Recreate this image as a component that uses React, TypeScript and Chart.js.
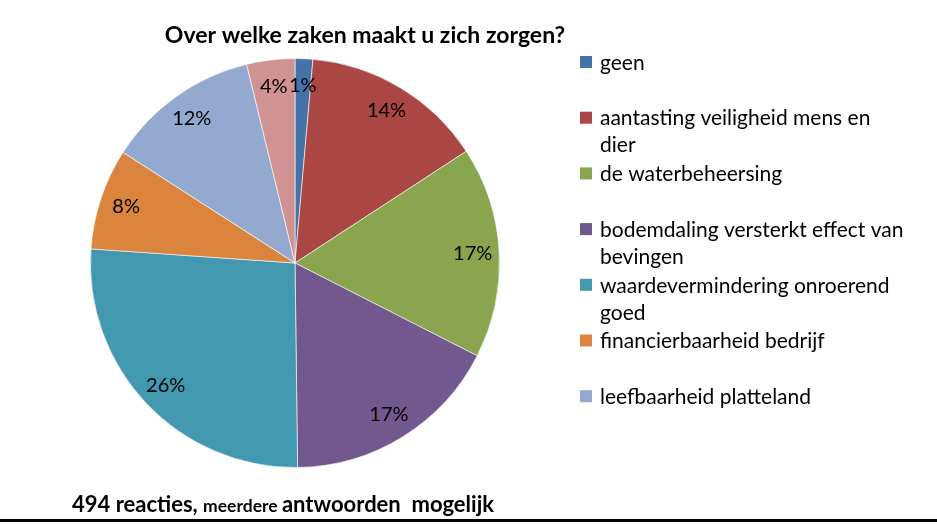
import React, { useEffect, useRef } from "react";
import { Chart, registerables } from "chart.js";

Chart.register(...registerables);

const TITLE = "Over welke zaken maakt u zich zorgen?";
const categories = [
  "geen",
  "aantasting veiligheid mens en dier",
  "de waterbeheersing",
  "bodemdaling versterkt effect van bevingen",
  "waardevermindering onroerend goed",
  "financierbaarheid bedrijf",
  "leefbaarheid platteland",
  "overig",
];
const values = [1.4, 14.4, 16.7, 17.3, 26.3, 8.0, 12.1, 3.8];
const percentLabels = ["1%", "14%", "17%", "17%", "26%", "8%", "12%", "4%"];
const colors = ["#4572A7", "#AA4643", "#89A54E", "#71588F", "#4198AF", "#DB843D", "#93A9CF", "#D19392"];
const legendCount = 7;

const FONT = "Lato, 'Open Sans', sans-serif";

function wrap(ctx: CanvasRenderingContext2D, text: string, maxW: number): string[] {
  const words = text.split(" ");
  const lines: string[] = [];
  let cur = "";
  for (const w of words) {
    const t = cur ? cur + " " + w : w;
    if (ctx.measureText(t).width > maxW && cur) {
      lines.push(cur);
      cur = w;
    } else cur = t;
  }
  if (cur) lines.push(cur);
  return lines;
}

const decorPlugin = {
  id: "decor",
  afterDraw(chart: any) {
    const ctx: CanvasRenderingContext2D = chart.ctx;
    const meta = chart.getDatasetMeta(0);
    ctx.save();
    // percent labels
    ctx.fillStyle = "#000";
    ctx.font = `20px ${FONT}`;
    ctx.textAlign = "center";
    ctx.textBaseline = "middle";
    meta.data.forEach((arc: any, i: number) => {
      const { x, y, startAngle, endAngle, outerRadius } = arc.getProps(
        ["x", "y", "startAngle", "endAngle", "outerRadius"],
        true
      );
      const mid = (startAngle + endAngle) / 2;
      const r = outerRadius * 0.87;
      ctx.fillText(percentLabels[i], x + Math.cos(mid) * r, y + Math.sin(mid) * r);
    });
    // title
    ctx.font = `bold 23px ${FONT}`;
    ctx.textAlign = "center";
    ctx.textBaseline = "alphabetic";
    ctx.fillText(TITLE, 365, 43);
    // legend
    ctx.font = `21px ${FONT}`;
    ctx.textAlign = "left";
    ctx.textBaseline = "middle";
    for (let i = 0; i < legendCount; i++) {
      const cy = 62 + i * 55.7;
      ctx.fillStyle = colors[i];
      ctx.fillRect(580, cy - 6, 12, 12);
      ctx.fillStyle = "#000";
      const lines = wrap(ctx, categories[i], 307);
      lines.forEach((ln, j) => ctx.fillText(ln, 600, cy + 1 + j * 27));
    }
    // footer
    ctx.textBaseline = "alphabetic";
    let fx = 72;
    const parts: [string, number][] = [
      ["494 reacties, ", 22],
      ["meerdere ", 17.5],
      ["antwoorden  mogelijk", 22],
    ];
    for (const [t, s] of parts) {
      ctx.font = `bold ${s}px ${FONT}`;
      ctx.fillText(t, fx, 512);
      fx += ctx.measureText(t).width;
    }
    // bottom line
    ctx.fillStyle = "#000";
    ctx.fillRect(0, 519, 937, 3);
    ctx.restore();
  },
};

export default function App() {
  const ref = useRef<HTMLCanvasElement>(null);
  useEffect(() => {
    const chart = new Chart(ref.current!, {
      type: "pie",
      data: {
        labels: categories,
        datasets: [
          {
            data: values,
            backgroundColor: colors,
            borderColor: "rgba(255,255,255,0.6)",
            borderWidth: 1,
          },
        ],
      },
      options: {
        animation: false,
        responsive: false,
        maintainAspectRatio: false,
        layout: { padding: { left: 90, right: 437, top: 58, bottom: 57 } },
        plugins: {
          legend: { display: false },
          title: { display: false },
          tooltip: { enabled: false },
        },
      },
      plugins: [decorPlugin],
    });
    return () => chart.destroy();
  }, []);
  return (
    <div style={{ position: "absolute", left: 0, top: 0, width: 937, height: 525, background: "#fff" }}>
      <canvas ref={ref} width={937} height={525} style={{ width: 937, height: 525 }} />
    </div>
  );
}
